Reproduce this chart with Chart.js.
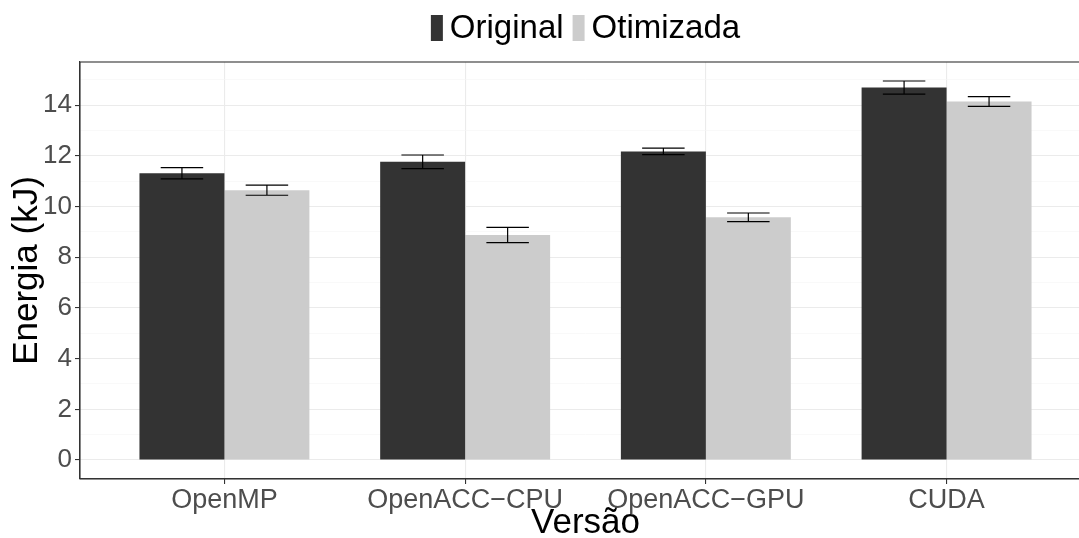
<!DOCTYPE html>
<html>
<head>
<meta charset="utf-8">
<script src="https://cdn.jsdelivr.net/npm/chart.js@4"></script>
<style>
  html, body { margin: 0; padding: 0; background: #fff; overflow: hidden; }
  #wrap { width: 1079px; height: 538px; overflow: hidden; }
  #box { width: 1100px; height: 538px; }
</style>
</head>
<body>
<div id="wrap"><div id="box"><canvas id="chart"></canvas></div></div>
<script>
// values
const categories = ['OpenMP', 'OpenACC\u2212CPU', 'OpenACC\u2212GPU', 'CUDA'];
const xPositions = [1, 2, 3, 4];
const seriesNames = ['Original', 'Otimizada'];
const original = [11.32, 11.77, 12.18, 14.70];
const originalErr = [0.22, 0.27, 0.13, 0.26];
const otimizada = [10.65, 8.88, 9.58, 14.15];
const otimizadaErr = [0.20, 0.30, 0.17, 0.19];
const yTicks = [0, 2, 4, 6, 8, 10, 12, 14];
const yGrid = [0, 1, 2, 3, 4, 5, 6, 7, 8, 9, 10, 11, 12, 13, 14, 15];

const FONT = '"Liberation Sans", Arial, Helvetica, sans-serif';
const colors = ['#333333', '#cccccc'];
const errors = [originalErr, otimizadaErr];

const toPoints = (vals) => vals.map((v, i) => ({ x: xPositions[i], y: v }));

// error bars, panel border and the legend on top
const extras = {
  id: 'extras',
  afterDatasetsDraw(chart) {
    const ctx = chart.ctx;
    const y = chart.scales.y;
    ctx.save();
    ctx.strokeStyle = '#000';
    ctx.lineWidth = 1.2;
    chart.data.datasets.forEach((ds, di) => {
      const meta = chart.getDatasetMeta(di);
      meta.data.forEach((bar, i) => {
        const v = ds.data[i].y;
        const e = errors[di][i];
        const top = y.getPixelForValue(v + e);
        const bot = y.getPixelForValue(v - e);
        const half = bar.width * 0.25;
        ctx.beginPath();
        ctx.moveTo(bar.x - half, top); ctx.lineTo(bar.x + half, top);
        ctx.moveTo(bar.x, top); ctx.lineTo(bar.x, bot);
        ctx.moveTo(bar.x - half, bot); ctx.lineTo(bar.x + half, bot);
        ctx.stroke();
      });
    });
    ctx.restore();
  },
  afterDraw(chart) {
    const ctx = chart.ctx;
    const a = chart.chartArea;
    ctx.save();
    ctx.strokeStyle = '#333333';
    ctx.lineWidth = 1.1;
    ctx.strokeRect(a.left, a.top, a.right - a.left, a.bottom - a.top);

    // legend
    ctx.font = '33px ' + FONT;
    ctx.textBaseline = 'middle';
    ctx.fillStyle = '#000';
    const boxW = 12, boxH = 26, gap = 7, sep = 9;
    const widths = seriesNames.map(n => ctx.measureText(n).width);
    const total = widths.reduce((s, w) => s + boxW + gap + w, 0) + sep * (seriesNames.length - 1);
    let x = (a.left + a.right) / 2 - total / 2;
    const cy = 28;
    seriesNames.forEach((n, i) => {
      ctx.fillStyle = colors[i];
      ctx.fillRect(x, cy - boxH / 2, boxW, boxH);
      x += boxW + gap;
      ctx.fillStyle = '#000';
      ctx.fillText(n, x, cy + 1);
      x += widths[i] + sep;
    });
    ctx.restore();
  }
};

const ctx = document.getElementById('chart').getContext('2d');
new Chart(ctx, {
  type: 'bar',
  data: {
    datasets: [
      { label: seriesNames[0], data: toPoints(original), backgroundColor: colors[0] },
      { label: seriesNames[1], data: toPoints(otimizada), backgroundColor: colors[1] },
    ],
  },
  options: {
    responsive: true,
    maintainAspectRatio: false,
    animation: false,
    events: [],
    layout: { padding: { top: 62, right: 9, left: 0, bottom: 0 } },
    datasets: { bar: { categoryPercentage: 0.706, barPercentage: 1.0 } },
    plugins: { legend: { display: false }, tooltip: { enabled: false } },
    scales: {
      x: {
        type: 'linear',
        min: 0.4,
        max: 4.6,
        offset: false,
        afterBuildTicks: (scale) => { scale.ticks = xPositions.map(v => ({ value: v })); },
        afterFit: (scale) => { scale.height = 59; },
        grid: { offset: false, color: '#ebebeb', lineWidth: 1.1, tickLength: 5, tickColor: '#333333', tickWidth: 1.1 },
        border: { display: true, color: '#333333', width: 1.1 },
        ticks: {
          padding: 0,
          color: '#4d4d4d',
          font: { family: FONT, size: 27 },
          maxRotation: 0,
          autoSkip: false,
          callback: (v) => categories[xPositions.indexOf(v)],
        },
        title: {
          display: true,
          text: 'Versão',
          color: '#000',
          font: { family: FONT, size: 35 },
          padding: { top: -6, bottom: -6 },
        },
      },
      y: {
        min: -0.75,
        max: 15.71,
        afterBuildTicks: (scale) => { scale.ticks = yGrid.map(v => ({ value: v })); },
        afterFit: (scale) => { scale.width = 80; },
        grid: {
          color: (c) => (yTicks.includes(c.tick.value) ? '#ebebeb' : '#f5f5f5'),
          lineWidth: (c) => (yTicks.includes(c.tick.value) ? 1.1 : 0.6),
          tickLength: 5,
          tickColor: (c) => (yTicks.includes(c.tick.value) ? '#333333' : 'rgba(0,0,0,0)'),
          tickWidth: 1.1,
        },
        border: { display: true, color: '#333333', width: 1.1 },
        ticks: {
          padding: 3,
          color: '#4d4d4d',
          font: { family: FONT, size: 26 },
          autoSkip: false,
          callback: (v) => (yTicks.includes(v) ? v : ''),
        },
        title: {
          display: true,
          text: 'Energia (kJ)',
          color: '#000',
          font: { family: FONT, size: 35 },
          padding: { top: 6, bottom: 6 },
        },
      },
    },
  },
  plugins: [extras],
});
</script>
</body>
</html>
